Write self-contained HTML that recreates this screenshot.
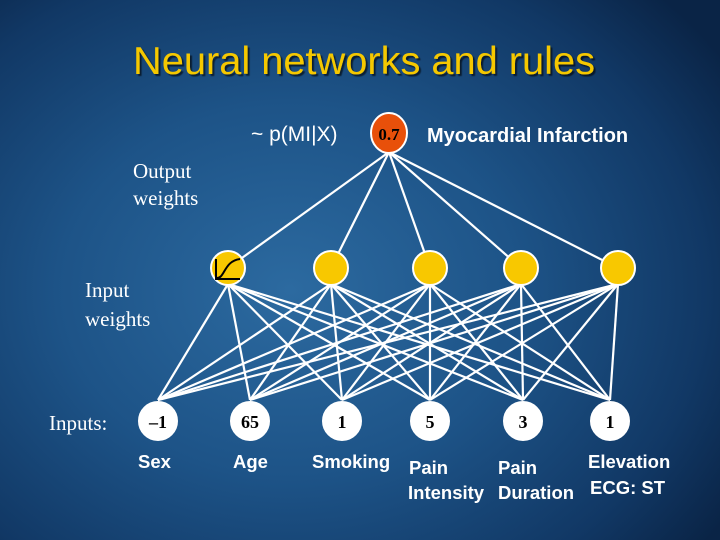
<!DOCTYPE html>
<html><head><style>
body{margin:0;}
#s{width:720px;height:540px;position:relative;overflow:hidden;
background:radial-gradient(ellipse 520px 420px at 290px 290px,#2c6aa0 0%,#1d5387 45%,#113865 80%,#0a2446 100%);}
</style></head><body><div id="s">
<svg width="720" height="540" xmlns="http://www.w3.org/2000/svg" style="position:absolute;left:0;top:0">
<defs><filter id="sh"><feDropShadow dx="2" dy="2" stdDeviation="0.5" flood-color="#000" flood-opacity="0.6"/></filter></defs>
<text x="364" y="74" text-anchor="middle" font-family="Liberation Sans" font-size="39" fill="#f5c800" filter="url(#sh)" textLength="462" lengthAdjust="spacingAndGlyphs">Neural networks and rules</text>
<g stroke="#fff" stroke-width="2.2" id="ln"></g>
<ellipse cx="389" cy="133" rx="18" ry="20" fill="#e8500a" stroke="#fff" stroke-width="2"/>
<text x="389" y="140" text-anchor="middle" font-family="Liberation Serif" font-weight="bold" font-size="17">0.7</text>
<text x="251" y="141" font-family="Liberation Sans" font-size="21" fill="#fff">~ p(MI|X)</text>
<text x="427" y="142" font-family="Liberation Sans" font-weight="bold" font-size="20" fill="#fff">Myocardial Infarction</text>
<g font-family="Liberation Serif" font-size="21" fill="#fff">
<text x="133" y="178">Output</text><text x="133" y="205">weights</text>
<text x="85" y="297">Input</text><text x="85" y="326">weights</text>
<text x="49" y="430">Inputs:</text></g>
<g id="nodes"></g>
<g font-family="Liberation Sans" font-weight="bold" font-size="18.5" fill="#fff">
<text x="138" y="468">Sex</text><text x="233" y="468">Age</text><text x="312" y="468">Smoking</text>
<text x="409" y="474">Pain</text><text x="408" y="499">Intensity</text>
<text x="498" y="474">Pain</text><text x="498" y="499">Duration</text>
<text x="588" y="468">Elevation</text><text x="590" y="494">ECG: ST</text></g>
</svg>
<script>
var H=[228,331,430,521,618],I=[158,250,342,430,523,610],ns="http://www.w3.org/2000/svg";
var ln=document.getElementById('ln'),nd=document.getElementById('nodes');
function L(a,b,c,d){var l=document.createElementNS(ns,'line');l.setAttribute('x1',a);l.setAttribute('y1',b);l.setAttribute('x2',c);l.setAttribute('y2',d);ln.appendChild(l);}
H.forEach(function(h){L(389,152,h,268);I.forEach(function(i){L(h,284,i,400);});});
function C(x,y,r,f){var c=document.createElementNS(ns,'circle');c.setAttribute('cx',x);c.setAttribute('cy',y);c.setAttribute('r',r);c.setAttribute('fill',f);c.setAttribute('stroke','#fff');c.setAttribute('stroke-width','2');nd.appendChild(c);}
H.forEach(function(h){C(h,268,17,'#f8c800');});
var v=['\u20131','65','1','5','3','1'];
I.forEach(function(x,k){C(x,421,19,'#fff');var t=document.createElementNS(ns,'text');t.setAttribute('x',x);t.setAttribute('y',428);t.setAttribute('text-anchor','middle');t.setAttribute('font-family','Liberation Serif');t.setAttribute('font-weight','bold');t.setAttribute('font-size','18');t.textContent=v[k];nd.appendChild(t);});
var p=document.createElementNS(ns,'path');p.setAttribute('d','M216 259 L216 279 L240 279 M217 278 C225 278 224 261 240 259');p.setAttribute('stroke','#000');p.setAttribute('stroke-width','2');p.setAttribute('fill','none');nd.appendChild(p);
</script>
</div></body></html>
